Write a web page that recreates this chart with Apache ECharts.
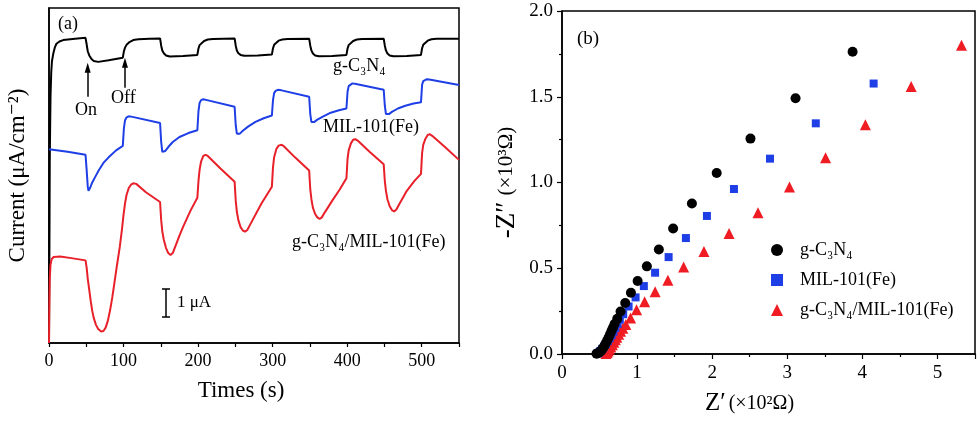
<!DOCTYPE html>
<html>
<head>
<meta charset="utf-8">
<script src="https://cdn.jsdelivr.net/npm/echarts@6/dist/echarts.min.js"></script>
<style>
html,body{margin:0;padding:0;background:#fff;}
#c{width:980px;height:421px;}
</style>
</head>
<body>
<div id="c"></div>
<script>
// ---------- Panel (a): photocurrent vs time ----------
var timeTicks = [0, 100, 200, 300, 400, 500];

var gcnT = [0, 0.5, 1, 2, 3, 4, 6, 8, 10, 14, 19, 35, 49, 50.5, 52, 54, 57, 60, 66, 80, 99, 100.5, 102, 104, 108, 113, 120, 135, 149, 150.5, 152, 154, 157, 162, 180, 199, 200.5, 202, 204, 208, 213, 220, 249, 250.5, 252, 254, 257, 262, 280, 299, 300.5, 302, 304, 308, 313, 320, 349, 350.5, 352, 354, 357, 362, 380, 399, 400.5, 402, 404, 408, 413, 420, 449, 450.5, 452, 454, 457, 462, 480, 499, 500.5, 502, 504, 508, 513, 520, 550];
var gcnI = [0, 3, 6.5, 8.8, 9.7, 10.1, 10.4, 10.6, 10.72, 10.8, 10.85, 10.9, 10.93, 10.7, 10.45, 10.3, 10.17, 10.1, 10.07, 10.13, 10.22, 10.45, 10.58, 10.68, 10.78, 10.85, 10.88, 10.9, 10.91, 10.65, 10.48, 10.38, 10.3, 10.26, 10.28, 10.32, 10.55, 10.67, 10.74, 10.82, 10.87, 10.89, 10.91, 10.65, 10.48, 10.38, 10.32, 10.29, 10.3, 10.33, 10.56, 10.68, 10.75, 10.83, 10.87, 10.89, 10.9, 10.65, 10.48, 10.37, 10.3, 10.27, 10.28, 10.32, 10.55, 10.67, 10.74, 10.82, 10.87, 10.89, 10.9, 10.65, 10.48, 10.37, 10.3, 10.27, 10.28, 10.32, 10.56, 10.68, 10.75, 10.83, 10.88, 10.9, 10.9];

var milT = [0, 25, 49, 50.5, 52, 53, 55, 58, 62, 67, 73, 80, 90, 99, 100.5, 102, 104, 107, 112, 149, 150.5, 152, 153.5, 156, 160, 166, 175, 187, 199, 200.5, 202, 204, 207, 212, 249, 250.5, 252, 253.5, 256, 260, 267, 277, 288, 299, 300.5, 302, 304, 307, 312, 349, 350.5, 352, 353.5, 356, 360, 368, 378, 389, 399, 400.5, 402, 404, 407, 412, 449, 450.5, 452, 453.5, 456, 460, 468, 478, 489, 499, 500.5, 502, 504, 507, 512, 550];
var milI = [6.94, 6.85, 6.74, 6.2, 5.6, 5.45, 5.55, 5.75, 5.95, 6.2, 6.45, 6.65, 6.9, 7.06, 7.7, 7.98, 8.08, 8.12, 8.1, 7.88, 7.2, 6.85, 6.8, 6.88, 7.02, 7.2, 7.38, 7.52, 7.62, 8.3, 8.6, 8.7, 8.73, 8.7, 8.46, 7.8, 7.5, 7.45, 7.5, 7.6, 7.75, 7.92, 8.05, 8.15, 8.7, 8.95, 9.03, 9.07, 9.05, 8.82, 8.2, 7.92, 7.87, 7.92, 8.0, 8.12, 8.25, 8.34, 8.4, 9.0, 9.2, 9.27, 9.3, 9.28, 9.07, 8.5, 8.2, 8.15, 8.2, 8.28, 8.4, 8.5, 8.58, 8.62, 9.25, 9.38, 9.43, 9.45, 9.43, 9.24];

var compT = [0, 0.5, 1, 2, 3.5, 6, 15, 30, 49, 50.5, 52, 54, 56, 58, 60, 63, 66, 70, 73, 76, 79, 82, 85, 88, 91, 95, 98, 100, 102, 104, 107, 110, 113, 117, 130, 149, 150.5, 152, 154, 157, 160, 163, 166, 170, 175, 180, 190, 199, 200.5, 202, 204, 207, 210, 213, 230, 249, 250.5, 252, 254, 257, 260, 263, 266, 270, 285, 299, 300.5, 302, 305, 308, 312, 315, 330, 349, 350.5, 352, 354, 357, 360, 363, 366, 370, 380, 390, 399, 400.5, 402, 405, 408, 411, 414, 430, 449, 450.5, 452, 454, 457, 460, 463, 466, 470, 480, 490, 499, 500.5, 502, 505, 508, 511, 514, 530, 550];
var compI = [0, 1.5, 2.3, 2.8, 3.0, 3.08, 3.1, 3.04, 2.96, 2.7, 2.3, 1.9, 1.5, 1.15, 0.9, 0.65, 0.5, 0.41, 0.43, 0.55, 0.8, 1.18, 1.65, 2.2, 2.75, 3.45, 4.1, 4.6, 5.0, 5.3, 5.55, 5.67, 5.72, 5.7, 5.4, 5.05, 4.4, 4.0, 3.7, 3.4, 3.22, 3.15, 3.22, 3.5, 3.85, 4.17, 4.75, 5.2, 5.8, 6.2, 6.5, 6.7, 6.74, 6.7, 6.25, 5.78, 5.1, 4.7, 4.4, 4.15, 4.03, 3.99, 4.05, 4.25, 5.0, 5.6, 6.3, 6.65, 6.95, 7.07, 7.1, 7.05, 6.65, 6.18, 5.5, 5.15, 4.85, 4.62, 4.5, 4.44, 4.5, 4.68, 5.1, 5.5, 5.9, 6.6, 6.9, 7.15, 7.28, 7.3, 7.25, 6.85, 6.4, 5.8, 5.45, 5.15, 4.9, 4.76, 4.71, 4.78, 4.98, 5.45, 5.8, 6.06, 6.8, 7.1, 7.32, 7.45, 7.48, 7.42, 7.05, 6.56];

// ---------- Panel (b): Nyquist plot ----------
var gcnZre = [3.87, 3.11, 2.51, 2.06, 1.73, 1.48, 1.29, 1.13, 1.007, 0.918, 0.842, 0.78, 0.736, 0.70, 0.68, 0.66, 0.64, 0.62, 0.60, 0.58, 0.56, 0.54, 0.52, 0.50, 0.48, 0.46];
var gcnZim = [1.762, 1.491, 1.256, 1.055, 0.878, 0.732, 0.609, 0.511, 0.426, 0.357, 0.297, 0.248, 0.205, 0.175, 0.155, 0.135, 0.115, 0.095, 0.077, 0.06, 0.044, 0.03, 0.018, 0.01, 0.004, 0.002];

var milZre = [4.15, 3.38, 2.77, 2.29, 1.93, 1.65, 1.42, 1.24, 1.09, 0.98, 0.887, 0.815, 0.77, 0.74, 0.71, 0.685, 0.66, 0.635, 0.61, 0.585, 0.56, 0.535, 0.51, 0.49, 0.47];
var milZim = [1.577, 1.345, 1.139, 0.962, 0.805, 0.676, 0.565, 0.474, 0.396, 0.33, 0.277, 0.232, 0.2, 0.175, 0.152, 0.13, 0.11, 0.092, 0.075, 0.058, 0.043, 0.03, 0.018, 0.008, 0.003];

var compZre = [5.32, 4.65, 4.04, 3.51, 3.03, 2.61, 2.225, 1.89, 1.62, 1.41, 1.24, 1.10, 0.993, 0.913, 0.85, 0.81, 0.78, 0.755, 0.73, 0.71, 0.69, 0.67, 0.65, 0.63, 0.615, 0.60, 0.585];
var compZim = [1.80, 1.56, 1.337, 1.145, 0.974, 0.824, 0.703, 0.597, 0.507, 0.43, 0.363, 0.305, 0.258, 0.21, 0.172, 0.15, 0.132, 0.115, 0.098, 0.083, 0.068, 0.054, 0.041, 0.029, 0.018, 0.009, 0.003];

var zreTicks = [0, 1, 2, 3, 4, 5];
var zimTicks = [0.0, 0.5, 1.0, 1.5, 2.0];

var names = ['g-C₃N₄', 'MIL-101(Fe)', 'g-C₃N₄/MIL-101(Fe)'];

function zip(a, b) { return a.map(function (v, i) { return [v, b[i]]; }); }

var SERIF = '"Liberation Serif", "DejaVu Serif", serif';
var BLACK = '#000000', BLUE = '#1f3fe6', RED = '#e8202a';

var chart = echarts.init(document.getElementById('c'), null, { renderer: 'canvas' });

var option = {
  backgroundColor: '#ffffff',
  animation: false,
  textStyle: { fontFamily: SERIF, color: '#000' },
  grid: [
    { left: 49, top: 8, width: 410, height: 335, show: true, borderColor: '#000', borderWidth: 1.5, backgroundColor: 'transparent' },
    { left: 562, top: 11, width: 413, height: 347, show: true, borderColor: '#000', borderWidth: 1.5, backgroundColor: 'transparent' }
  ],
  xAxis: [
    {
      gridIndex: 0, type: 'value', min: 0, max: 550, interval: 50,
      name: 'Times (s)', nameLocation: 'middle', nameGap: 36,
      nameTextStyle: { fontFamily: SERIF, fontSize: 23, color: '#000', padding: [0, 26, 0, 0] },
      axisLine: { show: true, onZero: false, lineStyle: { color: '#000', width: 1.5 } },
      axisTick: { show: true, inside: false, length: 4, lineStyle: { color: '#000', width: 1.2 } },
      axisLabel: {
        fontFamily: SERIF, fontSize: 18, color: '#000', margin: 9,
        formatter: function (v) { return timeTicks.indexOf(v) >= 0 ? String(v) : ''; }
      },
      splitLine: { show: false }
    },
    {
      gridIndex: 1, type: 'value', min: 0, max: 5.5, interval: 1,
      name: '{a|Z′} {b|(×10²Ω)}', nameLocation: 'middle', nameGap: 37,
      nameTextStyle: {
        fontFamily: SERIF, color: '#000', padding: [0, 38, 0, 0],
        rich: { a: { fontFamily: SERIF, fontSize: 25, color: '#000' }, b: { fontFamily: SERIF, fontSize: 20, color: '#000' } }
      },
      axisLine: { show: true, onZero: false, lineStyle: { color: '#000', width: 1.5 } },
      axisTick: { show: true, inside: false, length: 5, lineStyle: { color: '#000', width: 1.2 } },
      minorTick: { show: true, splitNumber: 2, length: 3, lineStyle: { color: '#000', width: 1.2 } },
      axisLabel: {
        fontFamily: SERIF, fontSize: 19, color: '#000', margin: 10,
        formatter: function (v) { return zreTicks.indexOf(v) >= 0 ? String(v) : ''; }
      },
      splitLine: { show: false }
    }
  ],
  yAxis: [
    {
      gridIndex: 0, type: 'value', min: 0, max: 12,
      name: 'Current (μA/cm⁻²)', nameLocation: 'middle', nameGap: 20,
      nameTextStyle: { fontFamily: SERIF, fontSize: 23, color: '#000' },
      axisLine: { show: true, onZero: false, lineStyle: { color: '#000', width: 1.5 } },
      axisTick: { show: false },
      axisLabel: { show: false },
      splitLine: { show: false }
    },
    {
      gridIndex: 1, type: 'value', min: 0, max: 2, interval: 0.5,
      name: '{a|-Z″}  {b|(×10³Ω)}', nameLocation: 'middle', nameGap: 42,
      nameTextStyle: {
        fontFamily: SERIF, color: '#000',
        rich: { a: { fontFamily: SERIF, fontSize: 27, color: '#000' }, b: { fontFamily: SERIF, fontSize: 21, color: '#000' } }
      },
      axisLine: { show: true, onZero: false, lineStyle: { color: '#000', width: 1.5 } },
      axisTick: { show: true, inside: false, length: 5, lineStyle: { color: '#000', width: 1.2 } },
      minorTick: { show: true, splitNumber: 2, length: 3, lineStyle: { color: '#000', width: 1.2 } },
      axisLabel: {
        fontFamily: SERIF, fontSize: 19, color: '#000', margin: 9,
        formatter: function (v) { return zimTicks.indexOf(v) >= 0 ? v.toFixed(1) : ''; }
      },
      splitLine: { show: false }
    }
  ],
  legend: {
    data: names,
    orient: 'vertical',
    left: 766, top: 236,
    itemWidth: 12, itemHeight: 12, itemGap: 12,
    textStyle: { fontFamily: SERIF, fontSize: 18, color: '#000', padding: [0, 0, 0, 12] },
    selectedMode: false
  },
  series: [
    {
      name: 'a-' + names[0], type: 'line', xAxisIndex: 0, yAxisIndex: 0,
      data: zip(gcnT, gcnI), showSymbol: false, smooth: false,
      lineStyle: { color: BLACK, width: 2 }, itemStyle: { color: BLACK }, z: 3,
      markLine: {
        silent: true, symbol: ['none', 'triangle'], symbolSize: [6, 10],
        label: { show: false },
        lineStyle: { color: '#000', width: 1.5, type: 'solid' },
        data: [
          [{ coord: [51.9, 8.82] }, { coord: [51.9, 9.86] }],
          [{ coord: [101.9, 9.14] }, { coord: [101.9, 10.04] }]
        ]
      }
    },
    {
      name: 'a-' + names[1], type: 'line', xAxisIndex: 0, yAxisIndex: 0,
      data: zip(milT, milI), showSymbol: false, smooth: false,
      lineStyle: { color: BLUE, width: 2 }, itemStyle: { color: BLUE }, z: 3
    },
    {
      name: 'a-' + names[2], type: 'line', xAxisIndex: 0, yAxisIndex: 0,
      data: zip(compT, compI), showSymbol: false, smooth: false,
      lineStyle: { color: RED, width: 2 }, itemStyle: { color: RED }, z: 3
    },
    {
      name: names[0], type: 'scatter', xAxisIndex: 1, yAxisIndex: 1,
      data: zip(gcnZre, gcnZim), symbol: 'circle', symbolSize: 10,
      itemStyle: { color: BLACK, opacity: 1 }, z: 5
    },
    {
      name: names[1], type: 'scatter', xAxisIndex: 1, yAxisIndex: 1,
      data: zip(milZre, milZim), symbol: 'rect', symbolSize: 8,
      itemStyle: { color: BLUE, opacity: 1 }, z: 4
    },
    {
      name: names[2], type: 'scatter', xAxisIndex: 1, yAxisIndex: 1,
      data: zip(compZre, compZim), symbol: 'triangle', symbolSize: 11,
      itemStyle: { color: '#f01c24', opacity: 1 }, z: 3
    }
  ],
  graphic: [
    { type: 'text', left: 58, top: 15, style: { text: '(a)', font: '18px ' + SERIF, fill: '#000' } },
    { type: 'text', left: 577, top: 30, style: { text: '(b)', font: '19px ' + SERIF, fill: '#000' } },
    { type: 'text', left: 333, top: 57, style: { text: names[0], font: '18px ' + SERIF, fill: '#000' } },
    { type: 'text', left: 323, top: 118, style: { text: names[1], font: '18px ' + SERIF, fill: '#000' } },
    { type: 'text', left: 292, top: 233, style: { text: names[2], font: '18px ' + SERIF, fill: '#000' } },
    { type: 'text', left: 75, top: 101, style: { text: 'On', font: '18px ' + SERIF, fill: '#000' } },
    { type: 'text', left: 111, top: 89, style: { text: 'Off', font: '18px ' + SERIF, fill: '#000' } },
    { type: 'line', shape: { x1: 166, y1: 289, x2: 166, y2: 317 }, style: { stroke: '#000', lineWidth: 1.5 } },
    { type: 'line', shape: { x1: 162, y1: 289, x2: 170, y2: 289 }, style: { stroke: '#000', lineWidth: 1.5 } },
    { type: 'line', shape: { x1: 162, y1: 317, x2: 170, y2: 317 }, style: { stroke: '#000', lineWidth: 1.5 } },
    { type: 'text', left: 177, top: 294, style: { text: '1 μA', font: '17px ' + SERIF, fill: '#000' } }
  ]
};

chart.setOption(option);
</script>
</body>
</html>
